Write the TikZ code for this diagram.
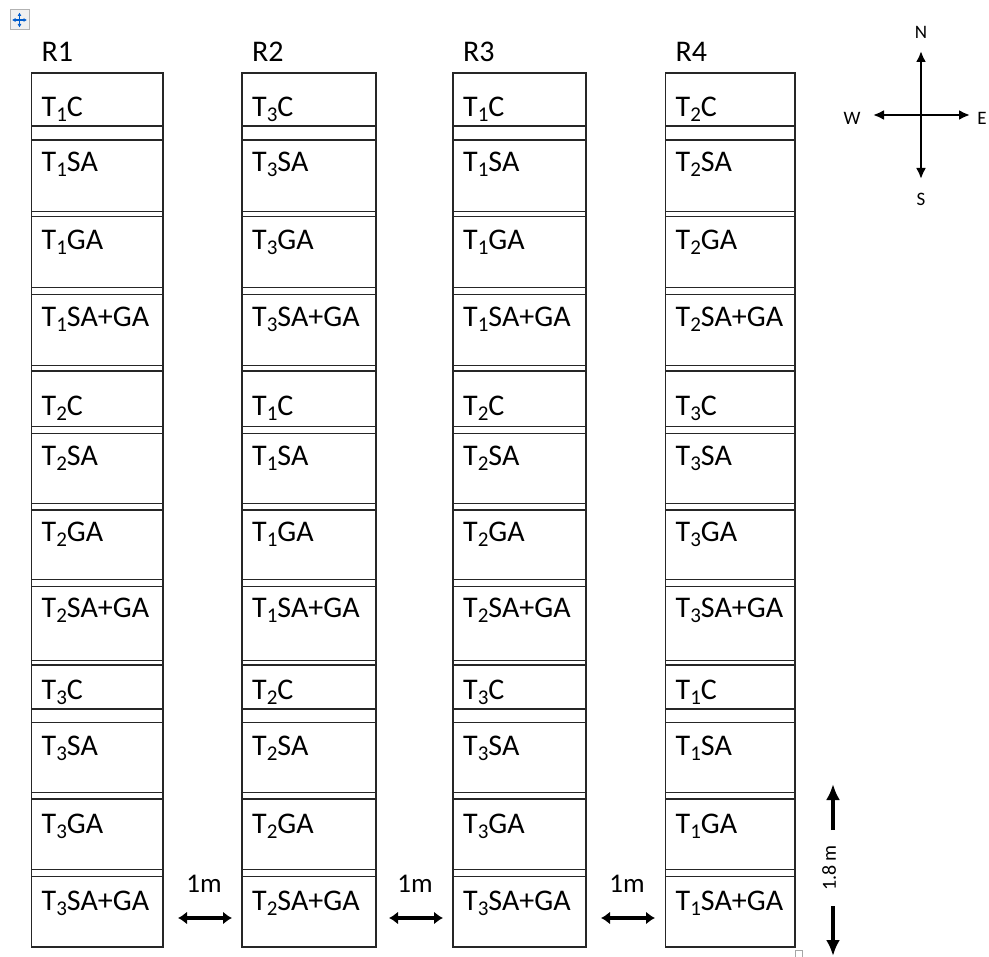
\documentclass[tikz,border=0pt]{standalone}
\usepackage{fontspec}
\setmainfont{Carlito}
\usetikzlibrary{arrows.meta}
\tikzset{
  colbox/.style={draw=black!85, line width=1.5pt},
  sepline/.style={draw=black!85, line width=1.4pt},
  celllabel/.style={anchor=base west, inner sep=0pt, font=\fontsize{30}{31}\selectfont},
  reptext/.style={anchor=base west, inner sep=0pt, font=\fontsize{30}{31}\selectfont},
  comptext/.style={inner sep=0pt, font=\fontsize{19}{20}\selectfont},
  comparrow/.style={line width=2.3pt, {Latex[length=11pt,width=10pt]}-{Latex[length=11pt,width=10pt]}},
  gaparrow/.style={line width=3.6pt, {Latex[length=9pt,width=13pt]}-{Latex[length=9pt,width=13pt]}},
  dimarrow/.style={line width=3.8pt, -{Latex[length=16pt,width=14pt]}},
  handlearrow/.style={draw=blue!55!cyan!80!black, line width=1.1pt, {Latex[length=3.5pt,width=4pt]}-{Latex[length=3.5pt,width=4pt]}}
}
\newcommand{\Tx}[2]{T\raisebox{-5pt}{\fontsize{21}{21}\selectfont #1}#2}
\begin{document}
\begin{tikzpicture}[x=1pt,y=-1pt]
\useasboundingbox (0,0) rectangle (989,957);
% table move handle
\node[draw=black!30, fill=black!6, line width=1pt, minimum width=19pt, minimum height=20pt, inner sep=0pt] (handle) at (19.5,20) {};
\draw[handlearrow] ([xshift=-7.5pt]handle.center) -- ([xshift=7.5pt]handle.center);
\draw[handlearrow] ([yshift=-7.5pt]handle.center) -- ([yshift=7.5pt]handle.center);
% columns
\foreach \c/\xl/\xr/\ta/\tb/\tc in {1/31.5/163/1/2/3, 2/242/376/3/1/2, 3/453/586/1/2/3, 4/665.5/795/2/3/1}{
  \draw[colbox] (\xl,73) rectangle (\xr,947);
  \foreach \ya/\yb in {126/140, 211.7/216.7, 287.7/294.3, 365.7/371, 426.7/433.3, 503.3/510, 579.3/586.7, 660.7/665, 709/722.7, 792.3/799, 869.3/876.7}{
    \draw[sepline] (\xl,\ya) -- (\xr,\ya);
    \draw[sepline] (\xl,\yb) -- (\xr,\yb);
  }
  \node[reptext] (r\c) at (\xl+10,62) {R\c};
  \node[celllabel] (c\c-1) at (\xl+10,117) {\Tx{\ta}{C}};
  \node[celllabel] (c\c-2) at (\xl+10,172) {\Tx{\ta}{SA}};
  \node[celllabel] (c\c-3) at (\xl+10,250) {\Tx{\ta}{GA}};
  \node[celllabel] (c\c-4) at (\xl+10,327) {\Tx{\ta}{SA+GA}};
  \node[celllabel] (c\c-5) at (\xl+10,416) {\Tx{\tb}{C}};
  \node[celllabel] (c\c-6) at (\xl+10,466) {\Tx{\tb}{SA}};
  \node[celllabel] (c\c-7) at (\xl+10,542) {\Tx{\tb}{GA}};
  \node[celllabel] (c\c-8) at (\xl+10,618) {\Tx{\tb}{SA+GA}};
  \node[celllabel] (c\c-9) at (\xl+10,699) {\Tx{\tc}{C}};
  \node[celllabel] (c\c-10) at (\xl+10,755) {\Tx{\tc}{SA}};
  \node[celllabel] (c\c-11) at (\xl+10,833) {\Tx{\tc}{GA}};
  \node[celllabel] (c\c-12) at (\xl+10,910) {\Tx{\tc}{SA+GA}};
}
% gap arrows (1 m)
\foreach \i/\xa/\xb in {1/178/232, 2/389/443, 3/601/655}{
  \coordinate (ga\i) at (\xa,918);
  \coordinate (gb\i) at (\xb,918);
  \draw[gaparrow] (ga\i) -- (gb\i);
  \node[inner sep=0pt, font=\fontsize{27}{28}\selectfont] (gl\i) at ({(\xa+\xb)/2-1},884) {1m};
}
% 1.8 m dimension
\node[inner sep=0pt, rotate=90, font=\fontsize{20}{21}\selectfont] (dim) at (829,868) {1.8 m};
\coordinate (dimtop) at (833,784);
\coordinate (dimbot) at (833,956);
\draw[dimarrow] (833,830) -- (dimtop);
\draw[dimarrow] (833,906) -- (dimbot);
% resize handle
\node[draw=black!35, line width=0.8pt, minimum size=7pt, inner sep=0pt] (resize) at (798.5,953.5) {};
% compass
\coordinate (cn) at (921,51);
\coordinate (cs) at (921,179);
\coordinate (cw) at (873,115);
\coordinate (ce) at (970,115);
\draw[comparrow] (cs) -- (cn);
\draw[comparrow] (cw) -- (ce);
\node[comptext] (nN) at (921,32) {N};
\node[comptext] (nS) at (921,199) {S};
\node[comptext] (nW) at (852,118) {W};
\node[comptext] (nE) at (982,118) {E};
\end{tikzpicture}
\end{document}
